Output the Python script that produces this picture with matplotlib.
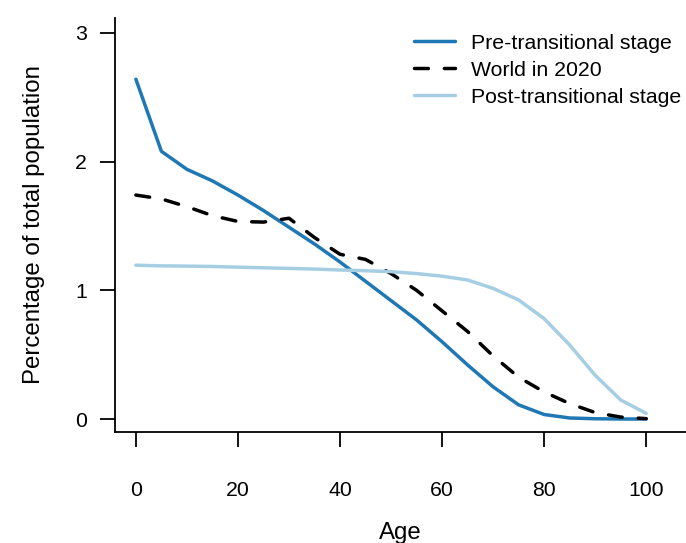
import matplotlib.pyplot as plt

# Age groups (5-year steps) and share of total population in each
AGES = [0, 5, 10, 15, 20, 25, 30, 35, 40, 45, 50, 55, 60, 65, 70, 75, 80, 85, 90, 95, 100]

PRE_TRANSITIONAL = [2.64, 2.08, 1.94, 1.85, 1.74, 1.62, 1.49, 1.36, 1.22, 1.07, 0.92,
                    0.77, 0.60, 0.42, 0.25, 0.11, 0.035, 0.008, 0.002, 0.0, 0.0]
WORLD_2020 = [1.74, 1.71, 1.65, 1.58, 1.535, 1.53, 1.56, 1.41, 1.28, 1.24, 1.13,
              1.00, 0.84, 0.68, 0.49, 0.325, 0.21, 0.12, 0.05, 0.015, 0.003]
POST_TRANSITIONAL = [1.195, 1.19, 1.188, 1.185, 1.18, 1.175, 1.17, 1.165, 1.158, 1.152, 1.145,
                     1.13, 1.11, 1.08, 1.015, 0.925, 0.78, 0.575, 0.34, 0.148, 0.044]

X_TICKS = [0, 20, 40, 60, 80, 100]
Y_TICKS = [0, 1, 2, 3]

DARK_BLUE = "#1f78b4"
LIGHT_BLUE = "#a6cee3"

plt.rcParams["font.family"] = ["Liberation Sans", "DejaVu Sans"]

fig = plt.figure(figsize=(6.86, 5.43), dpi=100)
ax = fig.add_axes([0.1676, 0.2044, 0.8324, 0.7625])

lw = 2.5
ax.plot(AGES, PRE_TRANSITIONAL, color=DARK_BLUE, lw=lw,
        solid_capstyle="round", label="Pre-transitional stage")
ax.plot(AGES, WORLD_2020, color="black", lw=lw, dashes=(4.0, 4.6),
        dash_capstyle="round", label="World in 2020")
ax.plot(AGES, POST_TRANSITIONAL, color=LIGHT_BLUE, lw=lw,
        solid_capstyle="round", label="Post-transitional stage")

ax.set_xlim(-4.1, 107.8)
ax.set_ylim(-0.101, 3.116)

ax.set_xticks(X_TICKS)
ax.set_yticks(Y_TICKS)
ax.tick_params(axis="both", direction="out", length=11, width=1.3,
               labelsize=15.3, color="black")
ax.tick_params(axis="x", pad=24)
ax.tick_params(axis="y", pad=9)

for side in ("top", "right"):
    ax.spines[side].set_visible(False)
for side in ("left", "bottom"):
    ax.spines[side].set_linewidth(1.3)

ax.set_xlabel("Age", fontsize=17.3, labelpad=16)
ax.set_ylabel("Percentage of total population", fontsize=17.3, labelpad=22)

ax.legend(loc="upper right", bbox_to_anchor=(1.017, 0.998), frameon=False,
          fontsize=15.3, handlelength=1.9, handletextpad=0.75,
          labelspacing=0.38, borderaxespad=0.3)

fig.savefig("out.png", dpi=100)
